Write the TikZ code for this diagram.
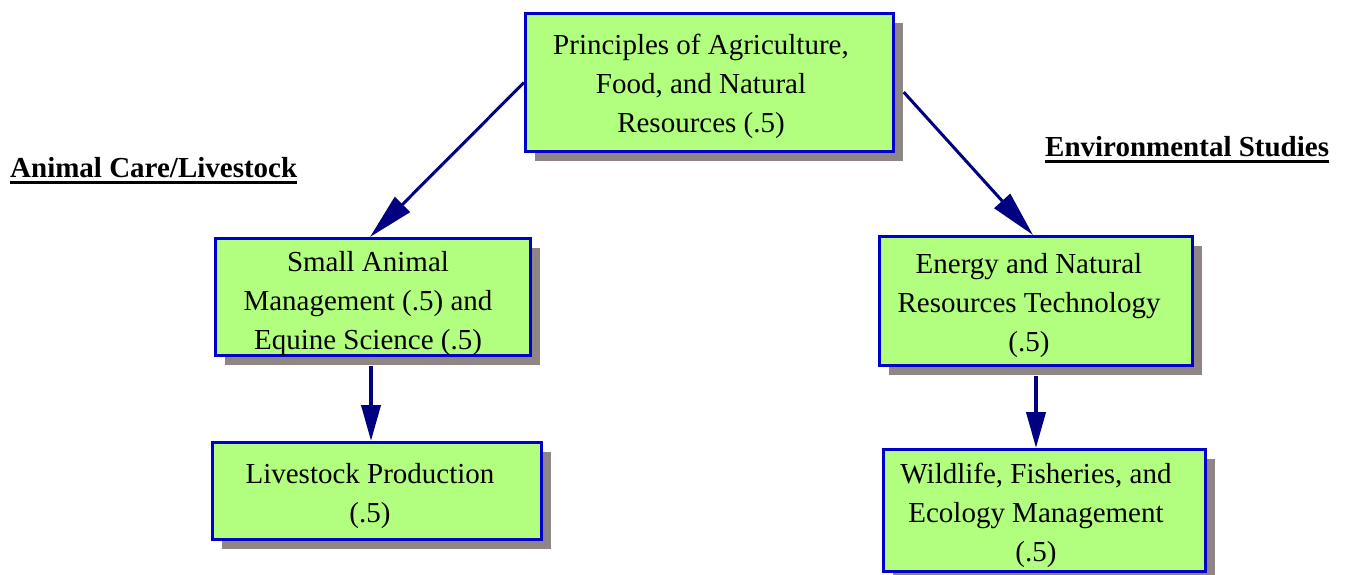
\documentclass[tikz,border=0pt]{standalone}
\usepackage{fontspec}
\setmainfont{Liberation Serif}
\usetikzlibrary{arrows.meta,shadows}
\definecolor{boxgreen}{RGB}{178,255,128}
\definecolor{boxblue}{RGB}{0,0,204}
\definecolor{shadowgray}{RGB}{143,133,133}
\definecolor{arrownavy}{RGB}{0,0,128}
\tikzset{
  box/.style={draw=boxblue, line width=3pt, fill=boxgreen, inner sep=0pt,
    drop shadow={shadow xshift=9pt, shadow yshift=-9pt, fill=shadowgray, opacity=1}},
  txt/.style={align=center, inner sep=0pt, font=\fontsize{29}{39}\selectfont},
  heading/.style={anchor=base west, inner sep=0pt, font=\fontsize{29}{35}\selectfont\bfseries},
  uline/.style={line width=3pt, black},
  diagarrow/.style={line width=3pt, draw=arrownavy, -{Triangle[length=46pt,width=21pt]}, arrownavy},
  vertarrow/.style={line width=4pt, draw=arrownavy, -{Triangle[length=36pt,width=19pt]}, arrownavy}
}
\begin{document}
\begin{tikzpicture}[x=1pt,y=-1pt]
\useasboundingbox (0,0) rectangle (1345,574);
% boxes
\node[box, minimum width=368pt, minimum height=138pt] (b1) at (709.5,82.5) {};
\node[box, minimum width=315pt, minimum height=117pt] (b2) at (373,297) {};
\node[box, minimum width=329pt, minimum height=97pt] (b3) at (377,491) {};
\node[box, minimum width=313pt, minimum height=129pt] (b4) at (1036,301) {};
\node[box, minimum width=322pt, minimum height=122pt] (b5) at (1044.5,510.5) {};
% texts
\node[txt] (t1) at ([shift={(-8.5,3.5)}]b1.center) {Principles of Agriculture,\\Food, and Natural\\Resources (.5)};
\node[txt] (t2) at ([shift={(-5,7)}]b2.center) {Small Animal\\Management (.5) and\\Equine Science (.5)};
\node[txt] (t3) at ([shift={(-7,5.5)}]b3.center) {Livestock Production\\(.5)};
\node[txt] (t4) at ([shift={(-7,4.5)}]b4.center) {Energy and Natural\\Resources Technology\\(.5)};
\node[txt] (t5) at ([shift={(-8.5,5)}]b5.center) {Wildlife, Fisheries, and\\Ecology Management\\(.5)};
% headings
\node[heading] (h1) at (10,177) {Animal Care/Livestock};
\node[heading] (h2) at (1045,156) {Environmental Studies};
\draw[uline] ([yshift=-5.5pt]h1.base west) -- ([yshift=-5.5pt]h1.base east);
\draw[uline] ([yshift=-5.5pt]h2.base west) -- ([yshift=-5.5pt]h2.base east);
% arrows
\draw[diagarrow] (b1.west) -- ([xshift=-3pt]b2.north);
\draw[diagarrow, shorten <=13pt] (b1.east) -- ([xshift=-3pt]b4.north);
\draw[vertarrow, shorten <=9pt] ([xshift=-2pt]b2.south) -- ([xshift=-2pt]b2.south |- b3.north);
\draw[vertarrow, shorten <=9pt] (b4.south) -- (b4.south |- b5.north);
\end{tikzpicture}
\end{document}
